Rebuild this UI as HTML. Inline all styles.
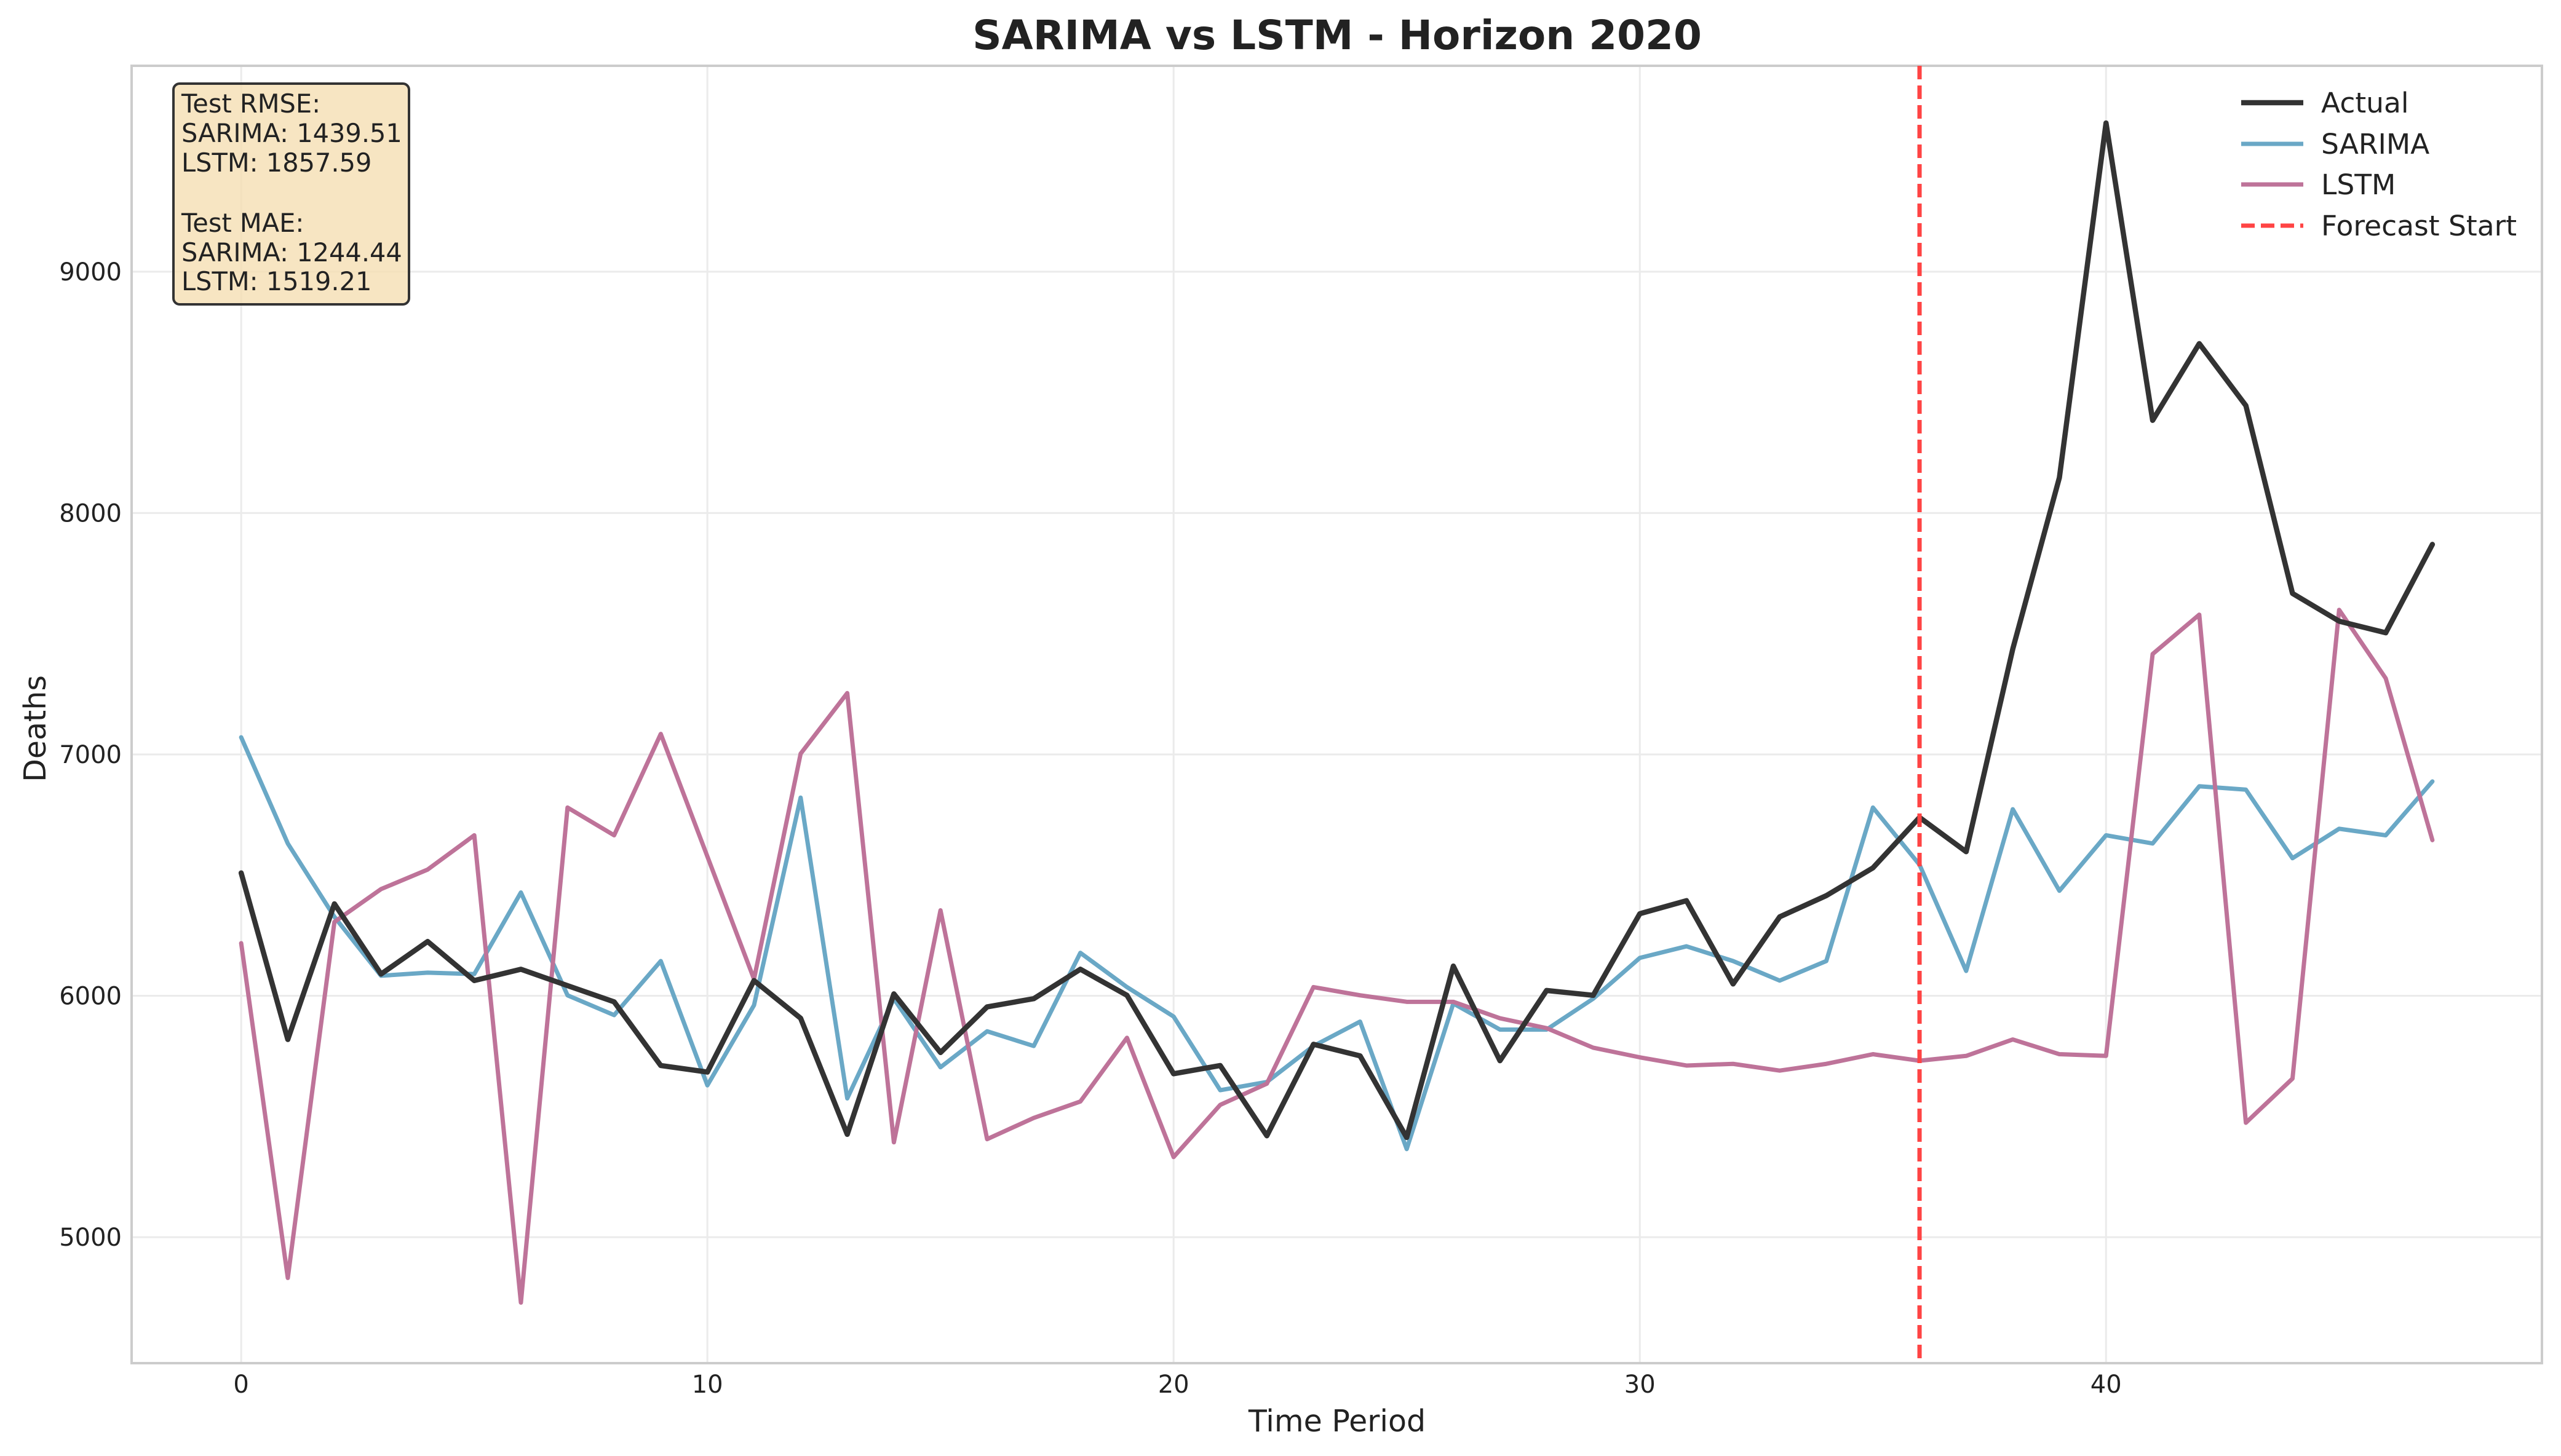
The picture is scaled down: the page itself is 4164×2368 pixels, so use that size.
<!DOCTYPE html>
<html><head><meta charset="utf-8"><style>
html,body{margin:0;padding:0;background:#fff;}
svg{display:block;font-family:"DejaVu Sans","Liberation Sans",sans-serif;}
</style></head><body>
<svg id="chart" width="4164" height="2368" viewBox="0 0 4164 2368" xmlns="http://www.w3.org/2000/svg">
<rect width="4164" height="2368" fill="#fff"/>
<g id="grid"></g>
<g id="axes"></g>
<g id="series"></g>
<text x="2174" y="80" text-anchor="middle" font-size="66" font-weight="bold" fill="#222">SARIMA vs LSTM - Horizon 2020</text>
<text x="2174" y="2328" text-anchor="middle" font-size="49" fill="#222">Time Period</text>
<text x="74" y="1185" text-anchor="middle" font-size="49" fill="#222" transform="rotate(-90 74 1185)">Deaths</text>
<g>
<rect x="282" y="136" width="383" height="359" rx="10" fill="#f5deb3" fill-opacity="0.8" stroke="#333" stroke-width="4"/>
<g font-size="41.5" fill="#222">
<text x="295" y="183">Test RMSE:</text>
<text x="295" y="231">SARIMA: 1439.51</text>
<text x="295" y="279">LSTM: 1857.59</text>
<text x="295" y="377">Test MAE:</text>
<text x="295" y="425">SARIMA: 1244.44</text>
<text x="295" y="472">LSTM: 1519.21</text>
</g></g>
<g font-size="45.5" fill="#222">
<g><line x1="3644" y1="167" x2="3745" y2="167" stroke="#333" stroke-width="8.5"/><text x="3774" y="183">Actual</text></g>
<g><line x1="3644" y1="234" x2="3745" y2="234" stroke="#6aa8c6" stroke-width="7"/><text x="3774" y="250">SARIMA</text></g>
<g><line x1="3644" y1="300" x2="3745" y2="300" stroke="#be7399" stroke-width="7"/><text x="3774" y="316">LSTM</text></g>
<g><line x1="3644" y1="367" x2="3745" y2="367" stroke="#ff4444" stroke-width="7" stroke-dasharray="22,10"/><text x="3774" y="383">Forecast Start</text></g>
</g>
</svg>
<script>
const actual=[6509,5819,6381,6090,6225,6063,6110,6042,5975,5711,5684,6063,5907,5426,6008,5765,5954,5988,6110,6002,5677,5711,5420,5799,5751,5413,6123,5731,6022,6002,6340,6394,6049,6327,6415,6530,6739,6597,7437,8147,9616,8384,8702,8445,7667,7552,7504,7870];
const sarima=[7071,6631,6327,6083,6096,6090,6428,6002,5920,6144,5629,5961,6821,5575,5988,5704,5853,5792,6178,6036,5914,5609,5643,5792,5893,5365,5968,5860,5860,5988,6157,6205,6144,6063,6144,6780,6543,6103,6773,6435,6665,6631,6868,6854,6570,6692,6665,6888];
const lstm=[6218,4831,6306,6442,6523,6665,4729,6780,6665,7085,6577,6069,7003,7254,5393,6354,5406,5494,5562,5826,5332,5548,5636,6036,6002,5975,5975,5907,5866,5785,5745,5711,5718,5690,5718,5758,5731,5751,5819,5758,5751,7416,7579,5474,5657,7599,7315,6645];
const xTicks=[0,10,20,30,40];
const yTicks=[5000,6000,7000,8000,9000];
const forecastStart=[36];
const L=214,R=4133,T=107,B=2217;
const xMin=-2.35,xMax=49.35,yMin=4478,yMax=9853;
const X=v=>L+(v-xMin)/(xMax-xMin)*(R-L);
const Y=v=>B-(v-yMin)/(yMax-yMin)*(B-T);
const NS='http://www.w3.org/2000/svg';
function mk(tag,attrs,parent){const e=document.createElementNS(NS,tag);for(const k in attrs)e.setAttribute(k,attrs[k]);parent.appendChild(e);return e;}
const grid=document.getElementById('grid'),axes=document.getElementById('axes'),series=document.getElementById('series');
xTicks.forEach(t=>{
  const g=mk('line',{x1:X(t),x2:X(t),y1:T,y2:B,stroke:'#ebebeb','stroke-width':3},grid);
  
  
  const tx=mk('text',{x:X(t),y:2265,'text-anchor':'middle','font-size':40,fill:'#222'},axes);
  tx.textContent=t;
  
  
});
yTicks.forEach(t=>{
  const g=mk('line',{x1:L,x2:R,y1:Y(t),y2:Y(t),stroke:'#ebebeb','stroke-width':3},grid);
  
  
  const tx=mk('text',{x:198,y:Y(t)+14,'text-anchor':'end','font-size':40,fill:'#222'},axes);
  tx.textContent=t;
  
  
});
const frame=mk('rect',{x:L,y:T,width:R-L,height:B-T,fill:'none',stroke:'#cccccc','stroke-width':4},axes);


function line(data,color,w,name){
  const p=mk('polyline',{points:data.map((v,i)=>X(i)+','+Y(v)).join(' '),fill:'none',stroke:color,'stroke-width':w,'stroke-linejoin':'round','stroke-linecap':'round'},series);
  
  
}
line(sarima,'#6aa8c6',7,'sarima-line');
line(lstm,'#be7399',7,'lstm-line');
line(actual,'#333333',8.5,'actual-line');
forecastStart.forEach(f=>{
  const v=mk('line',{x1:X(f),x2:X(f),y1:T,y2:B,stroke:'#ff4444','stroke-width':7,'stroke-dasharray':'22,10'},series);
  
  
});
</script>
</body></html>
